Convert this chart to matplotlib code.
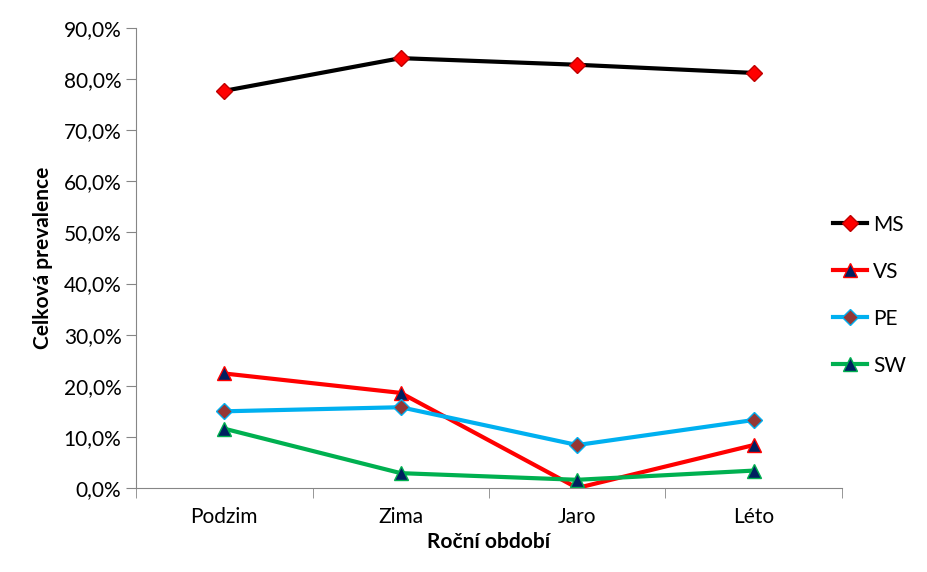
import matplotlib
matplotlib.use('Agg')
import matplotlib.pyplot as plt
from matplotlib.ticker import FuncFormatter, FixedLocator
import numpy as np

plt.rcParams['font.family'] = ['Lato', 'DejaVu Sans']

# data (podíl v procentech)
seasons = ['Podzim', 'Zima', 'Jaro', 'Léto']
ms = [77.7, 84.1, 82.8, 81.2]
vs = [22.4, 18.6, 0.0, 8.4]
pe = [15.0, 15.8, 8.4, 13.3]
sw = [11.6, 2.9, 1.6, 3.4]

fig = plt.figure(figsize=(9.28, 5.72), dpi=100)
ax = fig.add_axes((0.1466, 0.1469, 0.7607, 0.8042))

x = np.arange(len(seasons))
lw = 3.0
ax.plot(x, ms, color='black', lw=lw, marker='D', ms=8, mfc='#FF0000', mec='#C00000', label='MS')
ax.plot(x, vs, color='#FF0000', lw=lw, marker='^', ms=10, mfc='#002060', mec='#FF0000', label='VS')
ax.plot(x, pe, color='#00B0F0', lw=lw, marker='D', ms=8, mfc='#953735', mec='#00B0F0', label='PE')
ax.plot(x, sw, color='#00B050', lw=lw, marker='^', ms=10, mfc='#002060', mec='#00B050', label='SW')

ax.set_xlim(-0.5, len(seasons) - 0.5)
ax.set_ylim(0, 90)
ax.set_yticks(np.arange(0, 91, 10))
ax.yaxis.set_major_formatter(FuncFormatter(lambda v, p: f'{v:.1f}%'.replace('.', ',')))
ax.set_xticks(x)
ax.set_xticklabels(seasons)
ax.xaxis.set_minor_locator(FixedLocator(np.arange(-0.5, len(seasons), 1.0)))
ax.tick_params(axis='x', which='major', length=0, labelsize=15, pad=14)
ax.tick_params(axis='x', which='minor', length=7, color='#868686')
ax.tick_params(axis='y', length=7, color='#868686', labelsize=15)

for s in ['top', 'right']:
    ax.spines[s].set_visible(False)
for s in ['left', 'bottom']:
    ax.spines[s].set_color('#868686')

ax.set_ylabel('Celková prevalence', fontsize=15, fontweight='bold', labelpad=8)
ax.set_xlabel('Roční období', fontsize=15, fontweight='bold', labelpad=3)

fig.legend(loc='center left', bbox_to_anchor=(0.898, 0.484), frameon=False,
           fontsize=15, handlelength=1.6, labelspacing=1.3, handletextpad=0.3,
           borderaxespad=0, borderpad=0)

fig.savefig('out.png', dpi=100)
